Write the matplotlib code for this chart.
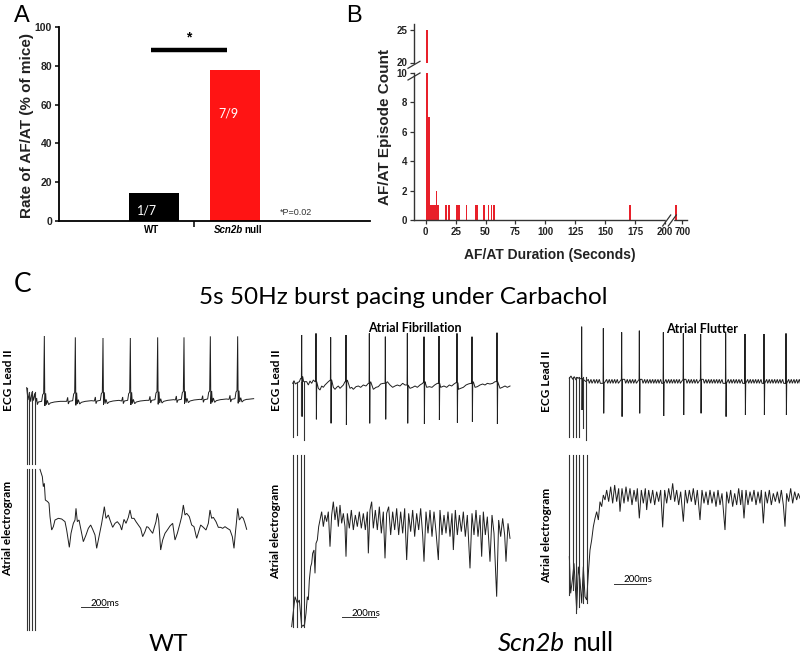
import numpy as np
import matplotlib.pyplot as plt

W, H = 800, 658
SANS = ["Liberation Sans", "DejaVu Sans"]
BODY = ["Lato", "DejaVu Sans"]
INK = "#1e1e1e"

# ---------------- A: rate of AF/AT per genotype
groups = ["WT", "Scn2b null"]
rate = [100 / 7, 700 / 9]          # % of mice
frac = ["1/7", "7/9"]
bar_colors = ["black", "#ff1414"]
a_ticks = [0, 20, 40, 60, 80, 100]

# ---------------- B: AF/AT episode durations (s) and counts
dur_s = [1, 2.5, 4, 5, 6, 7, 8, 9, 10.5, 17, 19.5, 26, 27.5, 34, 42, 43, 49, 52.5, 55, 57, 171, 650]
n_episodes = [25, 7, 1, 1, 1, 1, 1, 2, 1, 1, 1, 1, 1, 1, 1, 1, 1, 1, 1, 1, 1, 1]
dur_ticks = [0, 25, 50, 75, 100, 125, 150, 175, 200, 700]

# ---------------- C: traces (zoomed units, 3 per px)
# WT ECG lead II
wt_ecg_start_x = [80, 84, 88, 92, 96, 100, 104]
wt_ecg_start_y = [383, 420, 398, 425, 396, 422, 400]
wt_r = [133, 226, 309, 391, 473, 552, 631, 713]
wt_r_top = [228, 232, 234, 234, 232, 232, 229, 229]
wt_base = [426, 424, 423, 423, 421, 420, 419, 418]
beat_dx = [-26, -23, -21, -18, -8, -5, -2, 0, 1.5, 4, 6, 9, 13, 18, 30, 48]
beat_dy = [0, -12, 8, 0, -2, -22, -26, None, 12, -26, 8, -5, 8, 3, 0, -2]
wt_pace_x = [80, 88, 96, 104]
wt_pace_top = [383, 395, 392, 396]

# WT atrial electrogram
wt_eg_x = [120, 127, 130, 133, 136, 143, 147, 150, 155, 160, 165, 175, 185, 195, 200, 208, 213, 220,
           225, 228, 232, 237, 242, 250, 258, 265, 272, 278, 285, 290, 298, 305, 310, 313, 318, 325,
           330, 338, 345, 352, 360, 365, 372, 378, 385, 390, 395, 402, 408, 415, 422, 428, 435, 440,
           445, 452, 458, 463, 468, 472, 476, 482, 488, 495, 502, 510, 518, 525, 532, 540, 545, 550,
           555, 560, 568, 575, 582, 590, 596, 602, 610, 618, 625, 630, 635, 640, 648, 655, 662, 668,
           675, 682, 690, 697, 702, 706, 710, 713, 718, 725, 730, 735, 740]
wt_eg_y = [88, 110, 140, 130, 180, 185, 190, 230, 270, 260, 240, 235, 237, 245, 270, 322, 280, 250,
           240, 205, 245, 240, 265, 305, 285, 265, 255, 268, 285, 325, 285, 250, 220, 200, 235, 225,
           240, 262, 250, 245, 255, 270, 238, 250, 232, 210, 235, 235, 245, 255, 265, 290, 275, 260,
           262, 272, 280, 262, 245, 220, 240, 330, 300, 280, 270, 258, 250, 300, 280, 250, 230, 195,
           225, 220, 230, 255, 260, 295, 275, 255, 262, 270, 250, 210, 235, 232, 245, 262, 262, 265,
           260, 265, 270, 290, 325, 280, 240, 205, 240, 230, 235, 250, 268]

# Scn2b null, atrial fibrillation: ECG
af_ecg_x = [68, 72, 76, 82, 88, 92, 98, 101, 110, 115, 120, 125, 130, 135, 145, 150, 155, 160, 165, 170,
            175, 185, 190, 195, 200, 205, 210, 215, 220, 225, 232, 240, 245, 250, 258, 265, 272, 280,
            288, 295, 302, 310, 318, 325, 332, 340, 352, 360, 368, 375, 382, 390, 398, 405, 420,
            428, 435, 442, 450, 458, 465, 470, 478, 486, 494, 502, 512, 522, 530, 538, 545, 552,
            558, 565, 572, 580, 588, 595, 602, 610, 615, 622, 630, 638, 645, 652, 660, 668, 675,
            690, 697, 705, 712, 720]
af_ecg_y = [250, 242, 252, 248, 245, 235, 230, 245, 245, 255, 243, 250, 240, 245, 265, 270, 258, 262, 255, 250,
            245, 240, 262, 268, 262, 258, 265, 260, 255, 245, 240, 265, 262, 268, 260, 258, 262, 255,
            258, 250, 245, 268, 262, 260, 252, 250, 245, 255, 262, 258, 255, 258, 250, 255, 265,
            262, 258, 262, 255, 250, 245, 262, 260, 262, 255, 250, 262, 258, 262, 255, 258, 252,
            248, 268, 265, 262, 255, 252, 250, 245, 262, 260, 255, 252, 255, 250, 252, 250, 245,
            265, 262, 258, 262, 258]
af_r = [95, 138, 182, 228, 298, 346, 412, 462, 507, 561, 606, 681]
af_r_top = [105, 100, 112, 105, 100, 110, 100, 110, 108, 100, 110, 98]
af_r_bot = [350, 358, 370, 375, 370, 358, 370, 372, 360, 368, 365, 372]
af_pace_x = [70, 80, 93, 103]
af_pace_bot = [410, 405, 345, 420]

# Scn2b null, atrial fibrillation: electrogram
af_eg_x = [65, 75, 82, 88, 95, 100, 103, 108, 112, 115, 118, 122, 125, 128, 132, 135, 138, 142, 146,
           150, 155, 160, 165, 170, 175, 180, 185, 190, 195, 200, 205, 210, 215, 220, 225, 228, 232, 238,
           244, 250, 256, 262, 268, 274, 280, 286, 292, 295, 300, 305, 310, 316, 322, 328, 334, 340, 345,
           350, 356, 362, 368, 374, 380, 386, 392, 398, 404, 410, 416, 422, 428, 434, 440, 446, 452, 458,
           462, 468, 474, 480, 486, 492, 498, 505, 510, 516, 522, 528, 534, 540, 546, 550, 556, 562, 568,
           574, 580, 586, 592, 600, 606, 612, 618, 624, 630, 635, 640, 646, 652, 660, 666, 672, 680, 686,
           692, 698, 704, 708, 714, 720]
af_eg_y = [560, 470, 490, 480, 560, 555, 560, 520, 470, 480, 420, 380, 370, 340, 330, 400, 310, 300, 260,
           240, 215, 260, 225, 245, 215, 320, 225, 185, 240, 200, 260, 195, 250, 220, 260, 350, 220, 265,
           210, 270, 225, 260, 215, 265, 220, 270, 215, 340, 210, 185, 265, 210, 270, 200, 280, 215, 355,
           220, 200, 285, 215, 270, 205, 285, 215, 280, 205, 360, 220, 275, 210, 290, 220, 270, 205, 285,
           365, 215, 280, 210, 290, 215, 275, 360, 210, 285, 225, 280, 215, 290, 220, 330, 210, 285, 225,
           275, 215, 290, 225, 385, 220, 285, 210, 290, 225, 350, 215, 285, 230, 365, 225, 280, 470, 240,
           290, 235, 285, 365, 250, 295]
af_eg_pace_x = [70, 80, 92, 103]

# Scn2b null, atrial flutter: ECG
fl_start_x = [88, 93, 98, 103, 108, 113, 118, 122, 128, 132, 138]
fl_start_y = [235, 228, 238, 230, 240, 232, 236, 230, 225, 240, 245]
fl_peaks = [145, 153, 162, 170, 178, 200, 208, 216, 224, 232, 254, 262, 270, 278, 286, 306, 314, 322,
            330, 338, 346, 354, 362, 378, 386, 394, 402, 410, 418, 438, 446, 454, 462, 470, 490, 498,
            506, 514, 522, 530, 538, 546, 565, 573, 581, 589, 597, 605, 623, 631, 639, 647, 655, 663,
            680, 688, 696, 704, 712, 720, 728, 746, 754, 762, 770, 778]
fl_r = [125, 190, 245, 298, 370, 430, 482, 557, 615, 672, 738]
fl_r_top = [80, 85, 97, 92, 97, 100, 102, 100, 102, 102, 100]
fl_r_bot = [330, 340, 350, 340, 348, 345, 340, 350, 345, 345, 345]
fl_pace_x = [88, 98, 108, 118, 128, 138]
fl_pace_bot = [410, 410, 412, 410, 385, 420]

# Scn2b null, atrial flutter: electrogram
fl_eg_x = [88, 92, 97, 102, 106, 110, 115, 120, 125, 130, 135, 140, 145, 150, 155, 160, 165, 170, 175,
           180, 185, 190, 195, 200, 206, 212, 218, 224, 230, 236, 240, 246, 252, 258, 264, 270, 276, 282,
           288, 292, 298, 304, 310, 316, 320, 326, 332, 338, 344, 350, 356, 362, 368, 374, 380, 386, 392,
           398, 404, 410, 416, 422, 430, 436, 442, 448, 454, 460, 466, 472, 480, 486, 492, 498, 504, 510,
           516, 522, 528, 534, 540, 546, 555, 560, 566, 572, 578, 584, 590, 596, 602, 606, 612, 618, 624,
           630, 636, 642, 648, 654, 660, 664, 670, 676, 682, 688, 694, 700, 706, 712, 718, 724, 730, 735,
           740, 746, 752, 758, 764, 770, 775, 780]
fl_eg_y = [350, 460, 420, 370, 440, 510, 380, 420, 490, 380, 470, 480, 400, 330, 300, 260, 235, 215, 240,
           185, 200, 165, 180, 150, 185, 140, 190, 135, 185, 145, 215, 145, 190, 140, 185, 145, 195, 150,
           185, 145, 235, 150, 190, 145, 210, 150, 190, 150, 195, 155, 185, 150, 262, 150, 190, 145, 180,
           130, 185, 150, 195, 155, 245, 150, 190, 150, 185, 145, 195, 150, 240, 150, 190, 155, 195, 150,
           190, 155, 200, 150, 195, 160, 270, 155, 190, 150, 200, 160, 195, 145, 195, 150, 235, 150, 195,
           155, 185, 150, 195, 155, 190, 150, 250, 155, 190, 150, 195, 160, 185, 155, 190, 150, 195, 260,
           160, 185, 145, 190, 155, 180, 160, 175]
fl_eg_pace_x = [88, 98, 108, 118, 128, 140]
fl_eg_pace_bot = [465, 450, 520, 500, 490, 490]


def dur_pos(d):
    # x axis is broken after 200 s, 700 s sits just past the break
    return d if d <= 200 else 214.5 - (700 - d) * 0.1


fig = plt.figure(figsize=(W / 100, H / 100), dpi=100)


def px_axes(x0, y0, x1, y1):
    return fig.add_axes([x0 / W, 1 - y1 / H, (x1 - x0) / W, (y1 - y0) / H])


def style_ticks(ax, size):
    for lab in ax.get_xticklabels() + ax.get_yticklabels():
        lab.set_fontweight("bold")
        lab.set_family(SANS)
        lab.set_fontsize(size)
        lab.set_color("#222222")


# ---- panel A
axA = px_axes(59, 27, 370, 221)
xs = np.arange(len(groups))
axA.bar(xs, rate, width=0.62, color=bar_colors)
axA.set_xlim(-1.17, 2.67)
axA.set_ylim(0, 100)
axA.set_yticks(a_ticks)
axA.set_xticks([0.5])
axA.set_xticklabels([])
for s in ("top", "right"):
    axA.spines[s].set_visible(False)
for s in ("left", "bottom"):
    axA.spines[s].set_linewidth(1.3)
axA.tick_params(axis="y", length=3, width=1.1, pad=2)
axA.tick_params(axis="x", length=4, width=1.1)
style_ticks(axA, 7.5)
for i, lab_y in zip(xs, [5.3, 55.5]):
    axA.text(i - 0.08, lab_y, frac[i], color="white", ha="center", va="center",
             fontsize=9, family=BODY)
cat_kw = dict(va="center", fontsize=7, fontweight="bold", family=SANS, clip_on=False)
axA.text(-0.03, -4.6, "WT", ha="center", **cat_kw)
axA.text(1.10, -4.6, "Scn2b", ha="right", style="italic", **cat_kw)
axA.text(1.12, -4.6, "null", ha="left", **cat_kw)
axA.plot([-0.04, 0.91], [88, 88], color="black", lw=3.2, solid_capstyle="butt", clip_on=False)
axA.text(0.43, 91, "*", ha="center", va="bottom", fontsize=10, fontweight="bold", family=SANS)
axA.text(1.56, 4.6, "*P=0.02", ha="left", va="center", fontsize=6.5, family=SANS, color="#333333")
fig.text(27 / W, 1 - 125 / H, "Rate of AF/AT (% of mice)", rotation=90, ha="center", va="center",
         fontsize=11, fontweight="bold", family=SANS, color="#222222")

# ---- panel B (broken y axis)
pos = [dur_pos(d) for d in dur_s]
axBl = px_axes(414, 73, 687, 220)
axBu = px_axes(414, 23.5, 687, 62.5)
for ax in (axBl, axBu):
    ax.bar(pos, n_episodes, width=1.5, color="#e8202a", linewidth=0)
    ax.set_xlim(-9.8, 218.4)
    for s in ("top", "right"):
        ax.spines[s].set_visible(False)
    for s in ("left", "bottom"):
        ax.spines[s].set_linewidth(1.0)
        ax.spines[s].set_color("#333333")
    ax.tick_params(length=3, width=0.9, pad=2, color="#333333")
axBl.set_ylim(0, 10)
axBl.set_yticks([0, 2, 4, 6, 8, 10])
axBl.set_xticks([dur_pos(d) for d in dur_ticks])
axBl.set_xticklabels([str(d) for d in dur_ticks])
axBu.set_ylim(20, 26)
axBu.set_yticks([20, 25])
axBu.spines["bottom"].set_visible(False)
axBu.set_xticks([])
style_ticks(axBl, 7)
style_ticks(axBu, 7)
fig.text(385 / W, 1 - 127 / H, "AF/AT Episode Count", rotation=90, ha="center", va="center",
         fontsize=11, fontweight="bold", family=SANS, color="#222222")
fig.text(550 / W, 1 - 255 / H, "AF/AT Duration (Seconds)", ha="center", va="center",
         fontsize=10, fontweight="bold", family=SANS, color="#222222")

# ---- overlay in pixel coordinates for panel C and annotations
ov = fig.add_axes([0, 0, 1, 1])
ov.set_xlim(0, W)
ov.set_ylim(H, 0)
ov.axis("off")

# axis break marks of panel B
ov.add_patch(plt.Rectangle((665.5, 218.5), 7, 3.5, color="white", zorder=3))
for x0 in (662.7, 668.3):
    ov.plot([x0, x0 + 8], [226, 215], color="#333333", lw=0.9, zorder=4)
for y0 in (68.3, 80.0):
    ov.plot([408, 420], [y0, y0 - 7], color="#333333", lw=0.9, zorder=4)

ov.text(14, 22, "A", fontsize=17, family=SANS, va="baseline", ha="left")
ov.text(346, 22, "B", fontsize=17, family=SANS, va="baseline", ha="left")
ov.text(14, 292, "C", fontsize=19, family=BODY, va="baseline", ha="left")
ov.text(403, 297, "5s 50Hz burst pacing under Carbachol", fontsize=17.5, family=BODY,
        ha="center", va="center")


def zpts(origin, zx, zy):
    return origin[0] + np.asarray(zx, float) / 3, origin[1] + np.asarray(zy, float) / 3


def spiky(base_x, base_y, r_x, r_top, r_bot, keep_out=2.5):
    base = [(x, y) for x, y in zip(base_x, base_y) if min(abs(x - r) for r in r_x) > keep_out]
    pts = list(base)
    for r, t, b in zip(r_x, r_top, r_bot):
        yb = min(base, key=lambda p: abs(p[0] - r))[1]
        pts += [(r - 0.8, yb), (r, t), (r + 1.2, b), (r + 2.2, yb)]
    pts.sort(key=lambda p: p[0])
    return [p[0] for p in pts], [p[1] for p in pts]


trace_kw = dict(color=INK, lw=0.7, solid_joinstyle="miter")
pace_kw = dict(color="#333333", lw=0.8)

# WT ECG
o = (0, 260)
pts = list(zip(wt_ecg_start_x, wt_ecg_start_y))
for r, top, b in zip(wt_r, wt_r_top, wt_base):
    for dx, dy in zip(beat_dx, beat_dy):
        pts.append((r + dx, top if dy is None else b + dy))
pts.append((740, 418))
pts.sort(key=lambda p: p[0])
ov.plot(*zpts(o, [p[0] for p in pts], [p[1] for p in pts]), **trace_kw)
for x, t in zip(wt_pace_x, wt_pace_top):
    ov.plot(*zpts(o, [x, x], [t, 612]), **pace_kw)
# WT electrogram
o = (0, 440)
ov.plot(*zpts(o, wt_eg_x, wt_eg_y), **trace_kw)
for x in wt_pace_x:
    ov.plot(*zpts(o, [x, x], [88, 570]), **pace_kw)

# AF ECG
o = (270, 300)
ov.plot(*zpts(o, *spiky(af_ecg_x, af_ecg_y, af_r, af_r_top, af_r_bot)), **trace_kw)
for x, b in zip(af_pace_x, af_pace_bot):
    ov.plot(*zpts(o, [x, x], [245, b]), **pace_kw)
# AF electrogram
o = (270, 440)
ov.plot(*zpts(o, af_eg_x, af_eg_y), **trace_kw)
for x in af_eg_pace_x:
    ov.plot(*zpts(o, [x, x], [45, 560]), **pace_kw)

# Flutter ECG
o = (540, 300)
fx, fy = list(fl_start_x), list(fl_start_y)
for p in fl_peaks:
    fx += [p, p + 3]
    fy += [238, 250]
bx, by = spiky(fx, fy, fl_r, fl_r_top, fl_r_bot, keep_out=3)
ov.plot(*zpts(o, bx, by), **trace_kw)
for x, b in zip(fl_pace_x, fl_pace_bot):
    ov.plot(*zpts(o, [x, x], [232, b]), **pace_kw)
# Flutter electrogram
o = (540, 440)
ov.plot(*zpts(o, fl_eg_x, fl_eg_y), **trace_kw)
for x, b in zip(fl_eg_pace_x, fl_eg_pace_bot):
    ov.plot(*zpts(o, [x, x], [45, b]), **pace_kw)

# labels of panel C
lab_kw = dict(rotation=90, ha="center", va="center", fontweight="bold", family=BODY)
for x, y in [(9, 380), (276, 380), (547, 381)]:
    ov.text(x, y, "ECG Lead II", fontsize=8.5, **lab_kw)
for x, y in [(8, 528), (276, 531), (547, 535)]:
    ov.text(x, y, "Atrial electrogram", fontsize=8.5, **lab_kw)
ov.text(415, 328, "Atrial Fibrillation", ha="center", va="center", fontsize=9,
        fontweight="bold", family=BODY)
ov.text(702, 329, "Atrial Flutter", ha="center", va="center", fontsize=9,
        fontweight="bold", family=BODY)

# 200 ms scale bars
for x0, x1, y in [(80.7, 108.3, 606.7), (341.7, 376, 616.7), (614, 646, 584)]:
    ov.plot([x0, x1], [y, y], color="#333333", lw=0.7)
for x, y in [(105, 603), (366, 613), (637.5, 580)]:
    ov.text(x, y, "200ms", ha="center", va="center", fontsize=7, family=BODY)

ov.text(168, 651, "WT", ha="center", va="baseline", fontsize=17.5, family=BODY)
ov.text(565, 651, "Scn2b", ha="right", va="baseline", fontsize=18.5, style="italic", family=BODY)
ov.text(572, 651, "null", ha="left", va="baseline", fontsize=18.5, family=BODY)

fig.savefig("out.png", dpi=100)
